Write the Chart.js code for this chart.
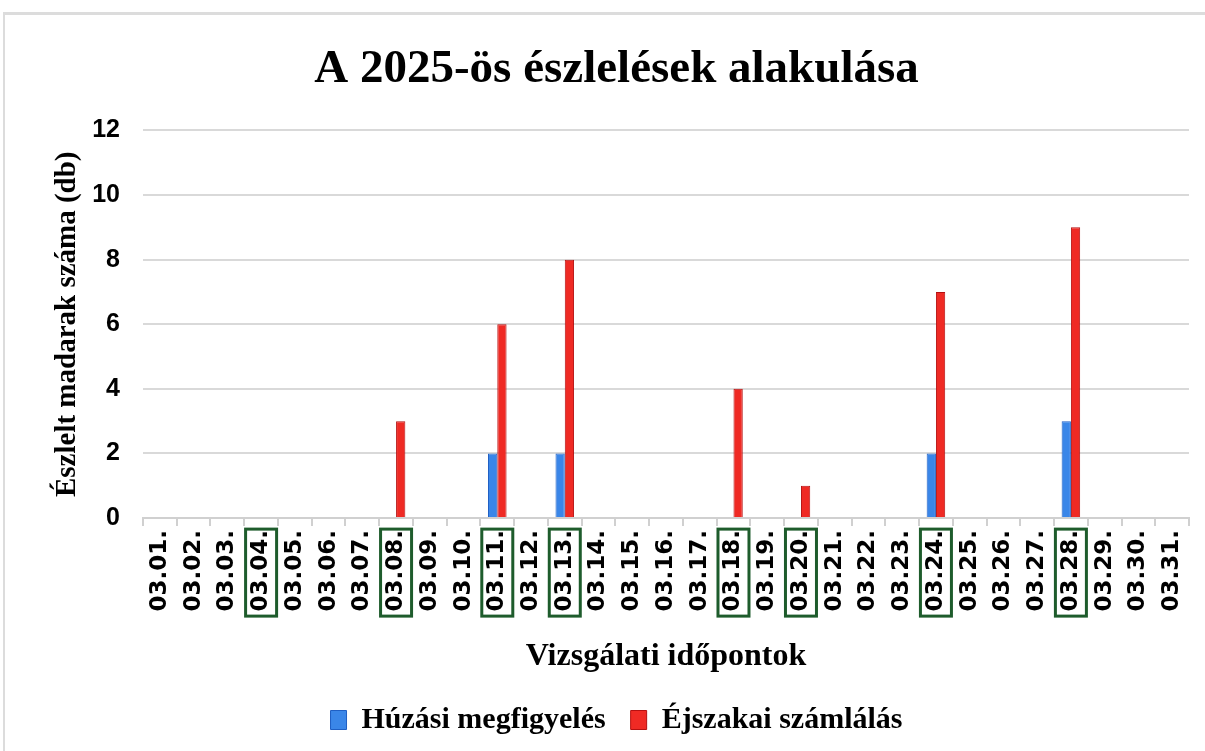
<!DOCTYPE html>
<html>
<head>
<meta charset="utf-8">
<script src="https://cdn.jsdelivr.net/npm/chart.js@4/dist/chart.umd.min.js"></script>
<style>
html,body{margin:0;padding:0;background:#fff;}
#frame{position:absolute;left:3px;top:12px;width:1202px;height:739px;border-top:3px solid #dcdcdc;border-left:2px solid #dcdcdc;box-sizing:border-box;}
#wrap{position:absolute;left:0;top:0;width:1205px;height:751px;}
</style>
</head>
<body>
<div id="frame"></div>
<div id="wrap"><canvas id="c" width="1205" height="751"></canvas></div>
<script>
const categories = ["03.01.","03.02.","03.03.","03.04.","03.05.","03.06.","03.07.","03.08.","03.09.","03.10.","03.11.","03.12.","03.13.","03.14.","03.15.","03.16.","03.17.","03.18.","03.19.","03.20.","03.21.","03.22.","03.23.","03.24.","03.25.","03.26.","03.27.","03.28.","03.29.","03.30.","03.31."];
const huzasi = [0,0,0,0,0,0,0,0,0,0,2,0,2,0,0,0,0,0,0,0,0,0,0,2,0,0,0,3,0,0,0];
const ejszakai = [0,0,0,0,0,0,0,3,0,0,6,0,8,0,0,0,0,4,0,1,0,0,0,7,0,0,0,9,0,0,0];
const highlighted = ["03.04.","03.08.","03.11.","03.13.","03.18.","03.20.","03.24.","03.28."];
const seriesNames = ["Húzási megfigyelés","Éjszakai számlálás"];
const titleText = "A 2025-ös észlelések alakulása";
const yTitle = "Észlelt madarak száma (db)";
const xTitle = "Vizsgálati időpontok";

const boxPlugin = {
  id: 'labelBoxes',
  afterDraw(chart) {
    const xs = chart.scales.x;
    const ctx = chart.ctx;
    ctx.save();
    ctx.strokeStyle = '#1e5c2c';
    ctx.lineWidth = 3;
    highlighted.forEach(lbl => {
      const i = categories.indexOf(lbl);
      if (i < 0) return;
      const x = xs.getPixelForValue(i);
      const top = xs.top + 11;
      ctx.strokeRect(x - 15.5, top, 31, 87);
    });
    ctx.restore();
  }
};

new Chart(document.getElementById('c'), {
  type: 'bar',
  data: {
    labels: categories,
    datasets: [
      { label: seriesNames[0], data: huzasi, backgroundColor: '#3a86e8', borderColor: '#1f5fc4', borderWidth: 1 },
      { label: seriesNames[1], data: ejszakai, backgroundColor: '#ef2a24', borderColor: '#b51010', borderWidth: 1 }
    ]
  },
  options: {
    responsive: false,
    animation: false,
    layout: { padding: { left: 44, right: 16, top: 20, bottom: 6 } },
    datasets: { bar: { categoryPercentage: 0.55, barPercentage: 1.0 } },
    plugins: {
      title: {
        display: true, text: titleText, color: '#000',
        font: { family: 'Liberation Serif', weight: 'bold', size: 47 },
        padding: { top: 22, bottom: 32 }
      },
      legend: {
        position: 'bottom',
        labels: {
          color: '#000', boxWidth: 16, boxHeight: 19, padding: 25,
          font: { family: 'Liberation Serif', weight: 'bold', size: 30 }
        }
      },
      tooltip: { enabled: false }
    },
    scales: {
      x: {
        grid: { display: true, drawOnChartArea: false, offset: true, color: '#d0d0d0', tickLength: 8, lineWidth: 2 },
        border: { display: true, color: '#d0d0d0', width: 2 },
        ticks: {
          color: '#000', minRotation: 90, maxRotation: 90, autoSkip: false, padding: 4,
          font: { family: 'DejaVu Sans', weight: 'bold', size: 23 }
        },
        title: {
          display: true, text: xTitle, color: '#000',
          font: { family: 'Liberation Serif', weight: 'bold', size: 32 },
          padding: { top: 22, bottom: 4 }
        }
      },
      y: {
        min: 0, max: 12,
        afterFit(scale) { scale.width = 99; },
        grid: { color: '#d9d9d9', lineWidth: 2, drawTicks: false },
        border: { display: false },
        ticks: {
          stepSize: 2, color: '#000', padding: 23,
          font: { family: 'Liberation Sans', weight: 'bold', size: 25 }
        },
        title: {
          display: true, text: yTitle, color: '#000',
          font: { family: 'Liberation Serif', weight: 'bold', size: 29 },
          padding: { top: 6, bottom: 6 }
        }
      }
    }
  },
  plugins: [boxPlugin]
});
</script>
</body>
</html>
